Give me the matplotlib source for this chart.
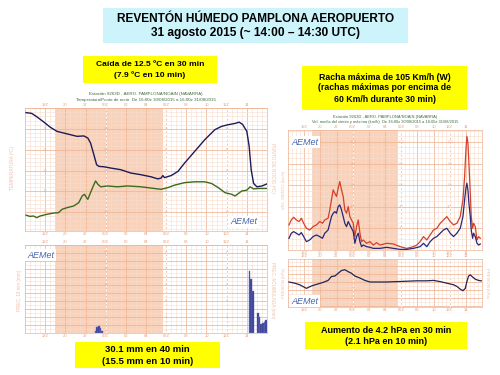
import numpy as np
import matplotlib
matplotlib.use("Agg")
import matplotlib.pyplot as plt
from matplotlib.patches import Rectangle
from matplotlib.ticker import MultipleLocator

plt.rcParams['font.family'] = ['Liberation Sans', 'DejaVu Sans']

W, H = 500, 375

# hours counted from 16Z 30/08/2015
hour_ticks = [2, 4, 6, 8, 10, 12, 14, 16, 18, 20, 22]
hour_labels = ["18Z", "20", "22", "00Z", "02", "04", "06Z", "08", "10", "12Z", "14"]
night = (2.95, 13.65)

# temperatura (ºC)
t_hours = [0.1, 0.67, 1.17, 1.83, 2.5, 3.17, 3.83, 4.5, 5.17, 5.83, 6.23, 6.5, 6.83, 7.1, 7.33,
           7.83, 8.5, 9.5, 10.5, 11.5, 12.5, 13.17, 13.5, 13.67, 13.83, 14.5, 15.17, 15.83, 16.83,
           17.83, 18.83, 19.5, 20.17, 20.83, 21.23, 21.57, 22.0, 22.23, 22.43, 22.67, 23.0, 23.5, 24.0]
temp = [33.9, 33.7, 32.9, 31.7, 30.4, 29.4, 29.0, 28.6, 28.2, 28.3, 27.8, 26.6, 23.8, 21.4, 21.0,
        20.9, 20.6, 20.2, 19.4, 19.0, 18.5, 18.0, 18.2, 18.8, 18.3, 18.8, 19.8, 21.8, 24.6,
        27.4, 29.8, 30.6, 31.0, 31.3, 31.6, 31.1, 29.4, 25.8, 20.2, 16.9, 16.1, 16.3, 16.8]

# punto de rocio (ºC)
d_hours = [0.1, 0.5, 0.83, 1.17, 1.5, 2.17, 2.83, 3.33, 3.67, 4.17, 4.83, 5.33, 5.67, 5.9, 6.1,
           6.23, 6.5, 6.77, 7.0, 7.23, 7.5, 8.17, 9.17, 10.17, 11.5, 12.83, 13.5, 14.17, 14.83,
           15.83, 16.83, 17.83, 18.5, 19.17, 19.83, 20.5, 20.83, 21.5, 22.0, 22.33, 22.67, 23.17, 24.0]
dew = [9.3, 9.0, 9.1, 8.7, 9.1, 9.5, 9.8, 9.9, 10.7, 11.1, 11.5, 12.3, 13.9, 14.3, 13.5,
       13.1, 14.7, 16.3, 17.5, 16.7, 16.1, 16.3, 16.1, 16.3, 16.1, 15.7, 15.5, 15.9, 16.5,
       17.1, 17.3, 17.3, 16.9, 15.9, 14.7, 14.3, 13.9, 15.1, 15.3, 16.1, 15.6, 15.7, 15.7]

# precipitacion 10 min (mm)
p_hours = [6.9, 7.07, 7.23, 7.4, 7.57, 22.17, 22.33, 22.5, 23.0, 23.17, 23.33, 23.5, 23.67, 23.83]
prec = [0.6, 1.6, 1.8, 1.2, 0.5, 15.4, 13.5, 10.5, 5.1, 4.1, 2.2, 2.4, 2.8, 3.2]
pmax_hour = [22.73]
pmax = [20.9]

# viento (km/h)
w_hours = [0.12, 0.41, 0.7, 1.03, 1.37, 1.65, 1.94, 2.28, 2.69, 3.1, 3.52, 3.93, 4.26, 4.55, 4.96,
           5.17, 5.38, 5.59, 5.79, 6.0, 6.21, 6.41, 6.62, 6.83, 7.03, 7.24, 7.45, 7.65, 7.86, 8.07,
           8.27, 8.48, 8.69, 8.9, 9.1, 9.31, 9.72, 10.14, 10.55, 10.96, 11.38, 12.21, 13.03, 13.86,
           14.69, 15.52, 15.93, 16.34, 16.76, 17.17, 17.58, 18.0, 18.41, 18.83, 19.24, 19.65, 20.07,
           20.48, 20.89, 21.31, 21.64, 21.85, 22.01, 22.13, 22.26, 22.38, 22.55, 22.67, 22.84, 22.96,
           23.17, 23.38, 23.58, 23.79]
gust = [23.2, 27.8, 30.3, 27.8, 26.3, 29.4, 24.7, 20.1, 18.5, 21.6, 23.2, 26.3, 24.7, 27.8, 29.4,
        37.1, 46.4, 55.6, 52.5, 49.4, 57.2, 63.3, 55.6, 49.4, 37.1, 34.0, 40.2, 30.9, 27.8, 24.7,
        12.4, 21.6, 27.8, 15.5, 7.7, 9.3, 6.2, 7.7, 4.6, 6.8, 4.6, 6.2, 5.6, 3.1,
        1.5, 3.1, 4.6, 7.7, 12.4, 9.3, 13.9, 18.5, 20.1, 24.7, 27.8, 30.9, 26.3,
        23.2, 24.7, 30.9, 46.4, 68.0, 92.7, 105.1, 98.9, 80.3, 52.5, 30.9, 20.1, 24.7,
        21.6, 9.3, 12.4, 10.8]
wmean = [10.8, 15.5, 17.0, 15.5, 13.9, 16.1, 12.4, 7.7, 9.3, 12.4, 13.9, 12.4, 10.8, 15.5, 18.5,
         24.7, 30.9, 34.0, 35.5, 34.0, 40.2, 41.7, 37.1, 30.9, 24.7, 21.6, 26.3, 23.2, 20.1, 17.0,
         6.2, 12.4, 15.5, 7.7, 3.1, 4.6, 3.1, 2.5, 1.5, 1.5, 1.5, 2.5, 1.5, 0.6,
         0.6, 1.5, 2.3, 3.1, 6.2, 3.1, 7.7, 10.8, 12.4, 15.5, 18.5, 20.1, 15.5,
         12.4, 15.5, 20.1, 30.9, 46.4, 57.2, 61.8, 55.6, 43.3, 30.9, 18.5, 10.8, 15.5,
         12.4, 6.2, 4.6, 5.6]

# presion (hPa)
pr_hours = [0.12, 0.83, 1.45, 2.28, 2.9, 3.52, 4.34, 4.96, 5.38, 5.79, 6.21, 6.62, 7.03, 7.45,
            7.86, 8.27, 8.9, 9.52, 10.14, 10.96, 12.21, 13.45, 14.69, 15.93, 17.17, 18.0, 18.83,
            19.65, 20.48, 20.89, 21.31, 21.64, 21.93, 22.13, 22.34, 22.55, 22.76, 23.17, 23.58, 23.91]
pres = [962.0, 961.7, 961.3, 960.4, 961.0, 961.4, 961.9, 962.4, 963.4, 963.5, 964.2, 964.9, 965.1,
        964.6, 964.2, 963.5, 963.0, 962.4, 962.0, 962.0, 962.0, 962.1, 962.2, 962.3, 962.3, 962.4,
        962.1, 961.7, 961.3, 960.9, 960.2, 959.8, 960.4, 962.1, 963.5, 963.8, 963.4, 962.7, 962.4, 962.3]

salmon = "#e9a27e"
shade = "#f8d2bb"
grid_minor = "#f7dccd"
grid_major = "#efb596"


def px_axes(x0, y0, x1, y1):
    return fig.add_axes([x0 / W, 1 - y1 / H, (x1 - x0) / W, (y1 - y0) / H])


def style(ax, ylim, ymaj, ymin):
    ax.set_xlim(0, 24)
    ax.set_ylim(*ylim)
    ax.axvspan(*night, color=shade, lw=0, zorder=0)
    ax.set_xticks(hour_ticks)
    ax.set_xticklabels(hour_labels)
    ax.xaxis.set_minor_locator(MultipleLocator(0.5))
    ax.yaxis.set_major_locator(MultipleLocator(ymaj))
    ax.yaxis.set_minor_locator(MultipleLocator(ymin))
    ax.grid(which="minor", color=grid_minor, lw=0.4, zorder=1)
    ax.grid(which="major", color=grid_major, lw=0.55, zorder=1)
    for h in [8, 14, 20]:
        ax.axvline(h, color="white", lw=0.6, ls=(0, (3, 2)), zorder=1.5)
    ax.tick_params(axis="x", which="both", length=0, top=True, labeltop=True,
                   labelsize=3, colors=salmon, pad=0.8)
    ax.tick_params(axis="y", which="both", length=0, labelleft=False)
    for s in ax.spines.values():
        s.set_color(grid_major)
        s.set_linewidth(0.5)
    ax.set_axisbelow(True)


def inner_labels(ax, ticks, cols):
    for c in cols:
        for v in ticks:
            ax.text(c, v, str(v), fontsize=3, color=salmon, ha="center", va="center",
                    alpha=0.6, zorder=1.6)


def logo(x, y):
    fig.text(x / W, 1 - y / H, "AEMet", fontsize=6.5, style="italic", color="#4a66ad",
             ha="left", va="center",
             bbox=dict(facecolor="white", edgecolor="none", pad=1.2))


def box(x0, y0, x1, y1, color, lines, size, ys):
    fig.patches.append(Rectangle((x0 / W, 1 - y1 / H), (x1 - x0) / W, (y1 - y0) / H,
                                 transform=fig.transFigure, facecolor=color, edgecolor="none"))
    for t, yy in zip(lines, ys):
        fig.text((x0 + x1) / 2 / W, 1 - yy / H, t, fontsize=size, fontweight="bold",
                 ha="center", va="center")


fig = plt.figure(figsize=(W / 100, H / 100), dpi=100)
fig.patch.set_facecolor("white")

# titulo y recuadros
box(103, 8, 408, 43, "#cdf4fb", ["REVENTÓN HÚMEDO PAMPLONA AEROPUERTO",
                                  "31 agosto 2015 (~ 14:00 – 14:30 UTC)"], 8.6, [18.5, 33])
box(83, 56, 217, 83, "#ffff00", ["Caída de 12.5 ºC en 30 min", "(7.9 ºC en 10 min)"], 6.1, [64, 75.5])
box(302, 66, 467, 110, "#ffff00", ["Racha máxima de 105 Km/h (W)", "(rachas máximas por encima de",
                                   "60 Km/h durante 30 min)"], 6.3, [77, 88, 99])
box(75, 342, 220, 368, "#ffff00", ["30.1 mm en 40 min", "(15.5 mm en 10 min)"], 6.8, [349.5, 361.5])
box(305, 322, 467, 349, "#ffff00", ["Aumento de 4.2 hPa en 30 min", "(2.1 hPa en 10 min)"], 6.5, [330.5, 341])

# temperatura / punto de rocio
ax1 = px_axes(25, 108, 267, 231)
style(ax1, (5.5, 35), 5, 1)
inner_labels(ax1, [10, 15, 20, 25, 30], [2, 8, 14, 20])
ax1.plot(t_hours, temp, color="#1d1b58", lw=1.0, zorder=3)
ax1.plot(d_hours, dew, color="#3b6b1c", lw=1.0, zorder=3)
fig.text(146 / W, 1 - 94.5 / H, "Estación 9263D - AERO. PAMPLONA/NOAIN (NAVARRA)",
         fontsize=3.2, color="#3d6a3a", ha="center", va="center")
fig.text(146 / W, 1 - 99.5 / H, "Temperatura/Punto de rocío  De 16:00z 30/08/2015 a 16:00z 31/08/2015",
         fontsize=3.2, color="#3d6a3a", ha="center", va="center")
fig.text(13 / W, 1 - 168 / H, "TEMPERATURA (ºC)", fontsize=3.3, color=salmon, rotation=90,
         ha="center", va="center", alpha=0.7)
fig.text(273 / W, 1 - 168 / H, "PUNTO DE ROCÍO (ºC)", fontsize=3.3, color=salmon, rotation=270,
         ha="center", va="center", alpha=0.7)
logo(230, 222)

# precipitacion
ax2 = px_axes(25, 245, 267, 333)
style(ax2, (0, 22), 2, 1)
inner_labels(ax2, [4, 8, 12, 16, 20], [8, 14, 20])
ax2.bar(p_hours, prec, width=1 / 6, align="edge", color="#3b3f95", edgecolor="#6a6fc0",
        lw=0.3, zorder=3)
ax2.bar(pmax_hour, pmax, width=0.06, color="#c8452a", lw=0, zorder=3)
fig.text(20 / W, 1 - 290 / H, "PREC. 10 min (mm)", fontsize=3.3, color=salmon, rotation=90,
         ha="center", va="center", alpha=0.7)
fig.text(273 / W, 1 - 290 / H, "PREC. ACUMULADA (mm)", fontsize=3.3, color=salmon, rotation=270,
         ha="center", va="center", alpha=0.7)
logo(27, 255)

# viento
ax3 = px_axes(288, 130, 482, 250)
style(ax3, (0, 111), 20, 5)
inner_labels(ax3, [20, 40, 60, 80, 100], [8, 14, 20])
ax3.plot(w_hours, gust, color="#d4402a", lw=0.9, zorder=3)
ax3.plot(w_hours, wmean, color="#27277a", lw=0.9, zorder=3)
fig.text(385 / W, 1 - 117 / H, "Estación 9263D - AERO. PAMPLONA/NOAIN (NAVARRA)",
         fontsize=2.9, color="#3d6a3a", ha="center", va="center")
fig.text(385 / W, 1 - 121.5 / H, "Vel. media del viento y máxima (km/h)  De 16:00z 30/08/2015 a 16:00z 31/08/2015",
         fontsize=2.9, color="#3d6a3a", ha="center", va="center")
fig.text(284 / W, 1 - 190 / H, "VEL. VIENTO (km/h)", fontsize=3, color=salmon, rotation=90,
         ha="center", va="center", alpha=0.7)
logo(291, 142)

# presion
ax4 = px_axes(288, 259, 482, 307)
style(ax4, (955.7, 967.8), 2, 1)
ax4.plot(pr_hours, pres, color="#1e2757", lw=0.9, zorder=3)
fig.text(284 / W, 1 - 283 / H, "PRESIÓN (hPa)", fontsize=3, color=salmon, rotation=90,
         ha="center", va="center", alpha=0.7)
fig.text(487 / W, 1 - 283 / H, "PRESIÓN (hPa)", fontsize=3, color=salmon, rotation=270,
         ha="center", va="center", alpha=0.7)
logo(291, 301)

fig.savefig("out.png", dpi=100)
